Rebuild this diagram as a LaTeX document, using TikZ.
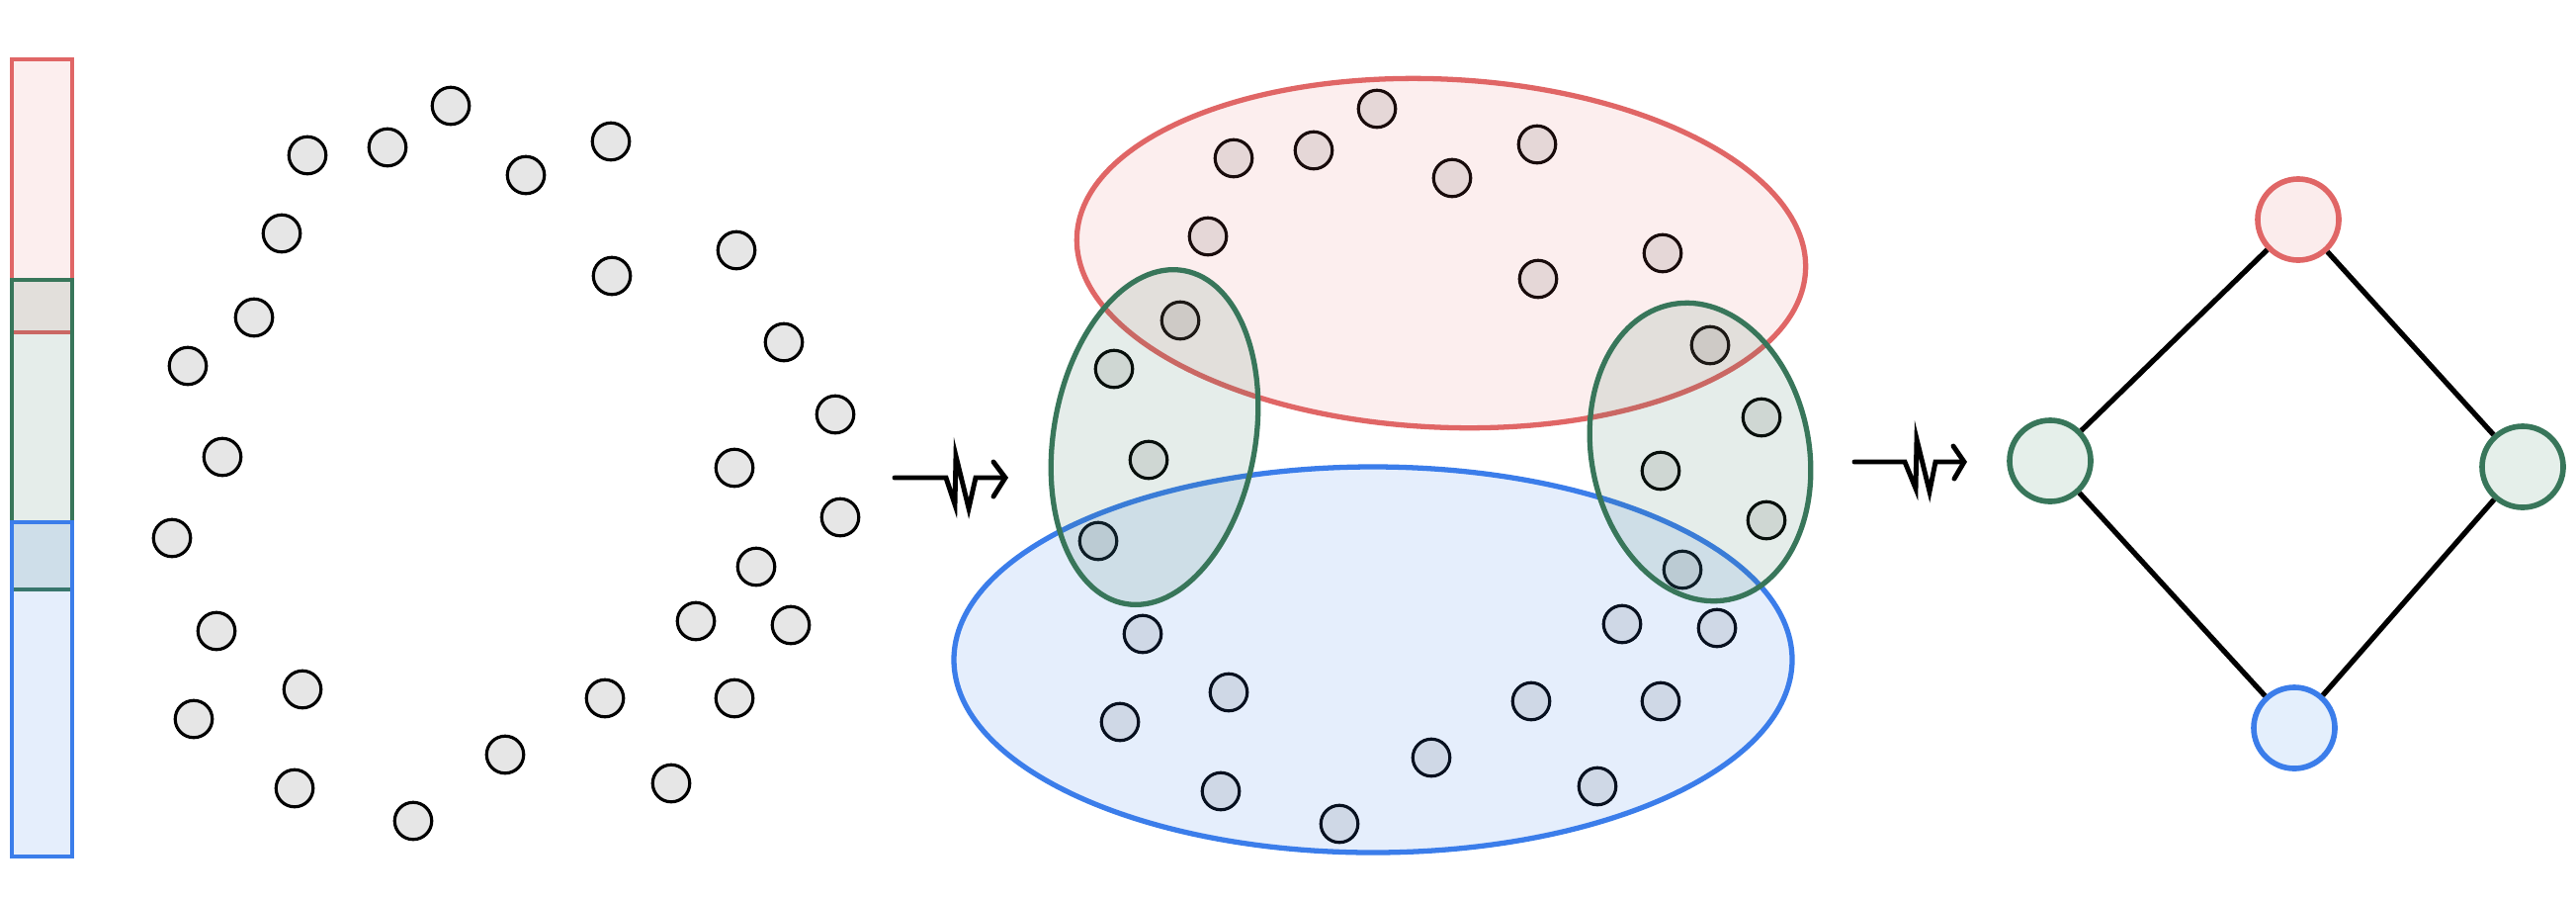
\documentclass[tikz,border=0pt]{standalone}
\usetikzlibrary{arrows.meta}
\definecolor{cred}{HTML}{E06666}
\definecolor{cgreen}{HTML}{38765A}
\definecolor{cblue}{HTML}{3B7DEA}
\definecolor{cdot}{HTML}{E6E6E6}
\definecolor{fred}{HTML}{FBECEC}
\definecolor{fgreen}{HTML}{E5EFEA}
\definecolor{fblue}{HTML}{E4EFFC}
\begin{document}
\begin{tikzpicture}[x=0.01cm,y=-0.01cm,
  dot/.style={circle,draw=black,fill=cdot,line width=0.9pt,minimum size=0.375cm,inner sep=0pt},
  redset/.style={draw=cred,fill=cred,fill opacity=0.11,line width=1.5pt},
  greenset/.style={draw=cgreen,fill=cgreen,fill opacity=0.13,line width=1.5pt},
  blueset/.style={draw=cblue,fill=cblue,fill opacity=0.135,line width=1.5pt},
  barred/.style={redset,line width=1.1pt},
  bargreen/.style={greenset,line width=1.1pt},
  barblue/.style={blueset,line width=1.1pt},
  squig/.style={draw=black,line width=1.4pt,line cap=round},
  gnode/.style={circle,line width=1.6pt,minimum size=0.82cm,inner sep=0pt},
  gred/.style={gnode,draw=cred,fill=fred},
  ggreen/.style={gnode,draw=cgreen,fill=fgreen},
  gblue/.style={gnode,draw=cblue,fill=fblue},
  edge/.style={draw=black,line width=1.5pt}
]
\useasboundingbox (0,0) rectangle (2606,911);

% left bar
\path[barred] (12,60) rectangle (73,336);
\path[bargreen] (12,283) rectangle (73,596);
\path[barblue] (12,528) rectangle (73,866);

% point clouds
\foreach \x/\y [count=\i] in {456/107,392/149,311/157,532/177,285/236,257/321,190/370,225/462,
  618/143,745/253,619/279,793/346,845/419,743/473,174/544,219/638,306/697,196/727,298/797,
  511/763,418/830,850/523,765/573,704/628,800/632,612/706,743/706,679/792}{
  \node[dot] (p\i) at (\x,\y) {};
  \node[dot] (m\i) at ({\x+937},{\y+3}) {};
}

% clusters
\draw[redset, rotate around={-2.7:(1458,256)}] (1458,256) ellipse [x radius=369, y radius=176];
\draw[blueset] (1389,667) ellipse [x radius=424, y radius=195];
\draw[greenset, rotate around={-10:(1168,442)}] (1168,442) ellipse [x radius=102, y radius=171];
\draw[greenset, rotate around={11:(1720,457)}] (1720,457) ellipse [x radius=110, y radius=152];

% squiggle arrows
\coordinate (a1) at (905,483);
\draw[squig] (a1) -- ++(52,0) -- ++(9,27) -- ++(1,-49) -- ++(13,53) -- ++(7,-31) -- ++(30,0) coordinate (a1t);
\draw[squig] (a1t) ++(-12,-16) -- (a1t) -- ++(-12,19);
\coordinate (a2) at (1876,467);
\draw[squig] (a2) -- ++(51,0) -- ++(11,27) -- ++(1,-50) -- ++(13,53) -- ++(6,-30) -- ++(29,0) coordinate (a2t);
\draw[squig] (a2t) ++(-11,-16) -- (a2t) -- ++(-10,17);

% graph
\node[gred] (gt) at (2325,222) {};
\node[ggreen] (gl) at (2074,466) {};
\node[ggreen] (gr) at (2552,472) {};
\node[gblue] (gb) at (2321,736) {};
\draw[edge] (gt) -- (gl);
\draw[edge] (gt) -- (gr);
\draw[edge] (gl) -- (gb);
\draw[edge] (gr) -- (gb);
\end{tikzpicture}
\end{document}
